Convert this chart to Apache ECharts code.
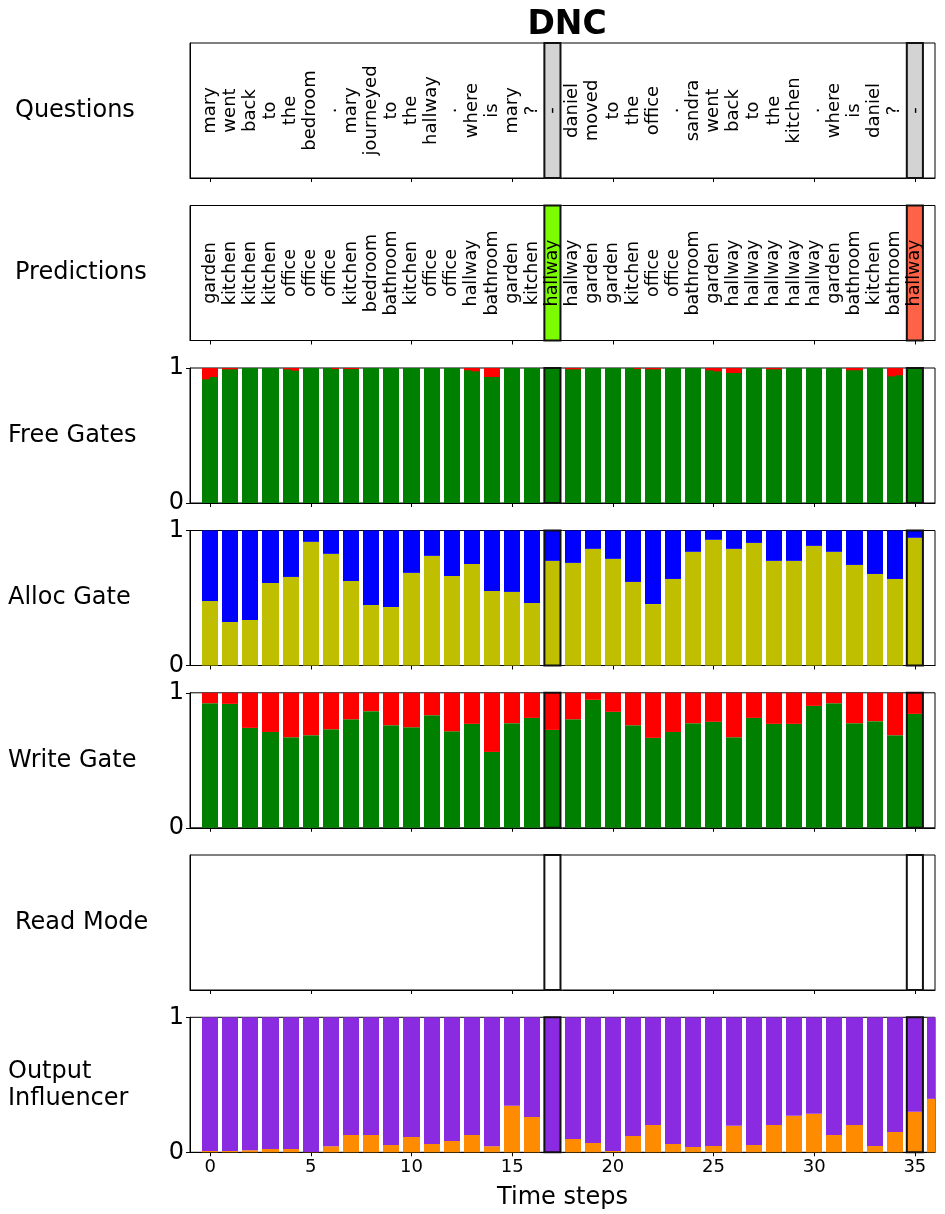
<!DOCTYPE html>
<html><head><meta charset="utf-8">
<script src="https://cdn.jsdelivr.net/npm/echarts@6/dist/echarts.min.js"></script>
<style>html,body{margin:0;padding:0;background:#fff}#c{width:945px;height:1214px}</style>
</head><body><div id="c"></div>
<script>
const questionWords = ['mary','went','back','to','the','bedroom','.','mary','journeyed','to','the','hallway','.','where','is','mary','?','-',
  'daniel','moved','to','the','office','.','sandra','went','back','to','the','kitchen','.','where','is','daniel','?','-'];
const predictionWords = ['garden','kitchen','kitchen','kitchen','office','office','office','kitchen','bedroom','bathroom','kitchen','office','office','hallway','bathroom','garden','kitchen','hallway',
  'hallway','garden','garden','kitchen','office','office','bathroom','garden','hallway','hallway','hallway','hallway','hallway','garden','bathroom','kitchen','bathroom','hallway'];
const answerSteps = [17, 35];
const answerCorrect = [true, false];
const freeGateHead1 = [0.916,0.99,1,1,0.99,1,1,0.992,1,1,1,1,1,0.983,0.933,1,1,1,
  0.99,1,1,1,0.99,1,1,0.983,0.963,1,0.99,1,1,1,0.983,1,0.938,1];
const freeGateHead2 = [0.933,0.99,1,1,0.98,1,0.992,0.992,1,1,1,1,1,0.975,0.933,1,1,1,
  0.99,1,1,0.992,0.99,1,1,0.975,0.963,1,0.99,1,1,1,0.983,1,0.946,1];
const allocGate = [0.478,0.322,0.337,0.611,0.656,0.916,0.827,0.626,0.448,0.433,0.686,0.812,0.663,0.752,0.552,0.545,0.463,0.775,
  0.760,0.864,0.790,0.619,0.455,0.641,0.842,0.931,0.864,0.908,0.775,0.775,0.886,0.842,0.745,0.678,0.641,0.946];
const writeGate = [0.923,0.918,0.740,0.710,0.671,0.686,0.730,0.804,0.864,0.760,0.745,0.834,0.715,0.770,0.562,0.775,0.814,0.725,
  0.804,0.948,0.859,0.760,0.666,0.710,0.775,0.785,0.671,0.814,0.770,0.770,0.903,0.923,0.775,0.790,0.686,0.844];
const outputInfluence = [0.010,0.010,0.015,0.025,0.025,0.002,0.045,0.129,0.129,0.054,0.114,0.062,0.084,0.129,0.045,0.344,0.262,0.0,
  0.099,0.069,0.010,0.121,0.203,0.062,0.040,0.047,0.196,0.054,0.203,0.270,0.285,0.129,0.203,0.047,0.151,0.300,0.396];
const xTicks = [0,5,10,15,20,25,30,35];
const panelLabels = ['Questions','Predictions','Free Gates','Alloc Gate','Write Gate','Read Mode','Output\nInfluencer'];
const xAxisLabel = 'Time steps';
const chartTitle = 'DNC';

const FONT = 'DejaVu Sans';
const C = {green:'#008000', red:'#ff0000', blue:'#0000ff', olive:'#bfbf00', purple:'#8a2be2', orange:'#ff8c00',
  gray:'#d3d3d3', lime:'#7cfc00', tomato:'#ff6347'};
const tops = [43, 205.5, 368, 530.5, 692.8, 855, 1017.3];
const GL = 190, GW = 745, GH = 135;
const labelX = [15, 15, 8, 8, 8, 15, 8];

const chart = echarts.init(document.getElementById('c'), null, {renderer:'canvas'});

function clip(r, cs) {
  return echarts.graphic.clipRectByRect(r, {x:cs.x, y:cs.y, width:cs.width, height:cs.height});
}
function segRender(width, offset) {
  return function (params, api) {
    const x = api.value(0), y0 = api.value(1), y1 = api.value(2);
    const a = api.coord([x - width/2 + offset, y1]);
    const b = api.coord([x + width/2 + offset, y0]);
    const xl = Math.round(a[0]), xr = Math.round(b[0]);
    const r = clip({x:xl, y:a[1], width:xr-xl, height:b[1]-a[1]}, params.coordSys);
    return r && {type:'rect', shape:r, style:api.style()};
  };
}
function seg(idx, data, color, width, offset, z) {
  return {type:'custom', xAxisIndex:idx, yAxisIndex:idx, renderItem:segRender(width, offset),
    itemStyle:{color:color}, data:data, z:z, silent:true};
}
function stackSeries(idx, values, lowColor, highColor) {
  return [seg(idx, values.map((v,i)=>[i,0,v]), lowColor, 0.8, 0, 2),
          seg(idx, values.map((v,i)=>[i,v,1]), highColor, 0.8, 0, 2)];
}
function boxSeries(idx, fills, z) {
  return {type:'custom', xAxisIndex:idx, yAxisIndex:idx, z:z, silent:true,
    renderItem: function (params, api) {
      const x = api.value(0);
      const a = api.coord([x - 0.4, 1]);
      const b = api.coord([x + 0.4, 0]);
      const f = fills ? fills[params.dataIndex] : 'none';
      return {type:'rect', shape:{x:a[0], y:a[1], width:b[0]-a[0], height:b[1]-a[1]},
        style:{fill:f, stroke:'#111', lineWidth:2}};
    },
    data: answerSteps.map(s=>[s])};
}
function wordSeries(idx, words, size) {
  return {type:'custom', xAxisIndex:idx, yAxisIndex:idx, z:5, silent:true,
    renderItem: function (params, api) {
      const p = api.coord([api.value(0), 0.5]);
      return {type:'text', x:p[0], y:p[1], rotation:Math.PI/2,
        style:{text:words[params.dataIndex], fill:'#000', font:size + 'px "' + FONT + '"', align:'center', verticalAlign:'middle'}};
    },
    data: words.map((w,i)=>[i])};
}

const grids = [], xAxes = [], yAxes = [];
for (let i = 0; i < 7; i++) {
  const barPanel = [2,3,4,6].includes(i);
  grids.push({left:GL, top:tops[i], width:GW, height:GH, show:true, borderColor:'#000', borderWidth:1, backgroundColor:'transparent'});
  xAxes.push({gridIndex:i, type:'value', min:-1, max:36,
    axisLine:{show:true, onZero:false, lineStyle:{color:'#000', width:1}},
    axisTick:{show:true, customValues:xTicks, length:4, lineStyle:{color:'#000'}},
    axisLabel:{show:i===6, customValues:xTicks, fontSize:18, color:'#000', fontFamily:FONT, margin:6},
    splitLine:{show:false},
    name: i===6 ? xAxisLabel : '', nameLocation:'middle', nameGap:33,
    nameTextStyle:{fontSize:24, color:'#000', fontFamily:FONT}});
  yAxes.push({gridIndex:i, type:'value', min:0, max:1, interval:1,
    axisLine:{show:true, onZero:false, lineStyle:{color:'#000', width:1}},
    axisTick:{show:barPanel, length:4, lineStyle:{color:'#000'}},
    axisLabel:{show:barPanel, fontSize:24, color:'#000', fontFamily:FONT, margin:6},
    splitLine:{show:false}});
}

const series = [];
series.push(boxSeries(0, answerSteps.map(()=>C.gray), 1));
series.push(wordSeries(0, questionWords, 18));
series.push(boxSeries(1, answerCorrect.map(c=>c ? C.lime : C.tomato), 1));
series.push(wordSeries(1, predictionWords, 17.5));
// free gates: full green bar, red top segments per read head (two half-width columns)
series.push(seg(2, freeGateHead1.map((v,i)=>[i,0,1]), C.green, 0.8, 0, 2));
series.push(seg(2, freeGateHead1.map((v,i)=>[i,v,1]), C.red, 0.4, -0.2, 3));
series.push(seg(2, freeGateHead2.map((v,i)=>[i,v,1]), C.red, 0.4, 0.2, 3));
series.push(boxSeries(2, null, 4));
series.push(...stackSeries(3, allocGate, C.olive, C.blue));
series.push(boxSeries(3, null, 4));
series.push(...stackSeries(4, writeGate, C.green, C.red));
series.push(boxSeries(4, null, 4));
series.push(boxSeries(5, null, 4));
series.push(...stackSeries(6, outputInfluence, C.orange, C.purple));
series.push(boxSeries(6, null, 4));

const graphics = panelLabels.map((t,i)=>({type:'text', left:labelX[i], top:tops[i] + GH/2 - (t.includes('\n') ? 27 : 13.5),
  style:{text:t, fill:'#000', font:'24px "' + FONT + '"', lineHeight:27}}));
graphics.push({type:'text', x:567, y:25, style:{text:chartTitle, fill:'#000', font:'bold 33px "' + FONT + '"', align:'center', verticalAlign:'middle'}});

chart.setOption({
  animation:false,
  textStyle:{fontFamily:FONT},
  grid:grids, xAxis:xAxes, yAxis:yAxes, series:series, graphic:graphics
});
</script></body></html>
